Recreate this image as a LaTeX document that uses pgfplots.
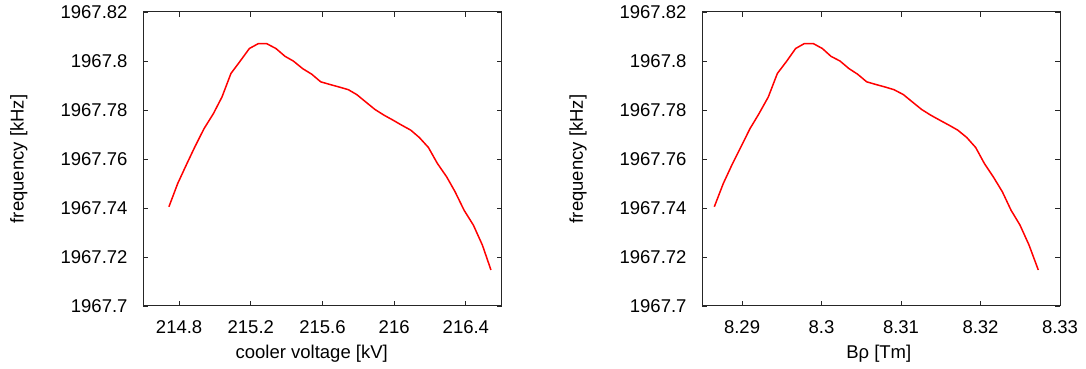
\documentclass[border=0pt]{standalone}
\usepackage{pgfplots}
\usepackage{pgfplotstable}
\pgfplotsset{compat=1.18}
\usepackage{fontspec}
\setmainfont{Liberation Sans}
\def\stripend{\stripend}
\def\stripyrB#11967.#2\stripend#3\stop{%
  \def\tmpthree{#3}%
  \ifx\tmpthree\empty
    \pgfmathparse{\tmpy-1967}%
  \else
    \def\pgfmathresult{0.#2}%
  \fi}
\pgfplotstableread{
x y
214.743 1967.7405
214.792 1967.7500
214.842 1967.7579
214.888 1967.7650
214.939 1967.7724
214.991 1967.7785
215.039 1967.7853
215.089 1967.7949
215.140 1967.7999
215.192 1967.8051
215.242 1967.8071
215.288 1967.8071
215.340 1967.8051
215.391 1967.8019
215.437 1967.8000
215.489 1967.7969
215.540 1967.7946
215.590 1967.7915
215.642 1967.7904
215.692 1967.7894
215.744 1967.7883
215.791 1967.7863
215.841 1967.7833
215.893 1967.7802
215.943 1967.7779
215.995 1967.7758
216.042 1967.7738
216.092 1967.7718
216.140 1967.7688
216.191 1967.7647
216.241 1967.7582
216.293 1967.7527
216.340 1967.7466
216.390 1967.7391
216.442 1967.7330
216.492 1967.7249
216.540 1967.7147
}\leftdata
\pgfplotstableread{
x y
8.28651 1967.7405
8.28764 1967.7500
8.28877 1967.7579
8.28987 1967.7650
8.29100 1967.7724
8.29213 1967.7785
8.29330 1967.7853
8.29444 1967.7949
8.29561 1967.7999
8.29674 1967.8051
8.29783 1967.8071
8.29897 1967.8071
8.30010 1967.8051
8.30119 1967.8019
8.30232 1967.8000
8.30345 1967.7969
8.30454 1967.7946
8.30568 1967.7915
8.30685 1967.7904
8.30798 1967.7894
8.30911 1967.7883
8.31029 1967.7863
8.31142 1967.7833
8.31260 1967.7802
8.31373 1967.7779
8.31490 1967.7758
8.31604 1967.7738
8.31713 1967.7718
8.31826 1967.7688
8.31939 1967.7647
8.32048 1967.7582
8.32161 1967.7527
8.32275 1967.7466
8.32384 1967.7391
8.32497 1967.7330
8.32610 1967.7249
8.32727 1967.7147
}\rightdata
\pgfplotsset{
  myaxis/.style={
    scale only axis,
    anchor=south west,
    height=294pt,
    font=\fontsize{18.5}{22}\selectfont,
    axis line style={line width=1pt, black!85},
    major tick style={line width=0.9pt, black!85},
    major tick length=5pt,
    tick align=inside,
    y coord trafo/.code={\edef\tmpy{##1}\expandafter\stripyrB\tmpy\stripend 1967.\stripend\stop},
    ymin=1967.7, ymax=1967.82,
    ytick={1967.7,1967.72,1967.74,1967.76,1967.78,1967.8,1967.82},
    yticklabels={1967.7,1967.72,1967.74,1967.76,1967.78,1967.8,1967.82},
    yticklabel style={anchor=east, inner sep=0pt, xshift=-15.6pt},
    xticklabel style={anchor=base, inner sep=0pt, yshift=-27.3pt},
    ylabel={frequency [kHz]},
    every axis y label/.style={at={(axis description cs:-0.347,0.5)}, rotate=90, anchor=center},
  }
}
\begin{document}
\begin{tikzpicture}
\useasboundingbox (0,0) rectangle (1086pt,369pt);
\begin{axis}[myaxis,
  at={(143.3pt,63pt)}, width=358.4pt,
  xmin=214.6, xmax=216.6,
  xtick={214.8,215.2,215.6,216,216.4},
  xticklabels={214.8,215.2,215.6,216,216.4},
  xlabel={cooler voltage [kV]},
  every axis x label/.style={at={(axis description cs:0.47,-0.163)}, anchor=center},
]
\addplot[red, line width=1.5pt, no markers] table[x=x,y=y] {\leftdata};
\end{axis}
\begin{axis}[myaxis,
  at={(702.3pt,63pt)}, width=357.7pt,
  xmin=8.285, xmax=8.33,
  xtick={8.29,8.3,8.31,8.32,8.33},
  xticklabels={8.29,8.3,8.31,8.32,8.33},
  xlabel={Bρ [Tm]},
  every axis x label/.style={at={(axis description cs:0.4934,-0.163)}, anchor=center},
]
\addplot[red, line width=1.5pt, no markers] table[x=x,y=y] {\rightdata};
\end{axis}
\end{tikzpicture}
\end{document}
